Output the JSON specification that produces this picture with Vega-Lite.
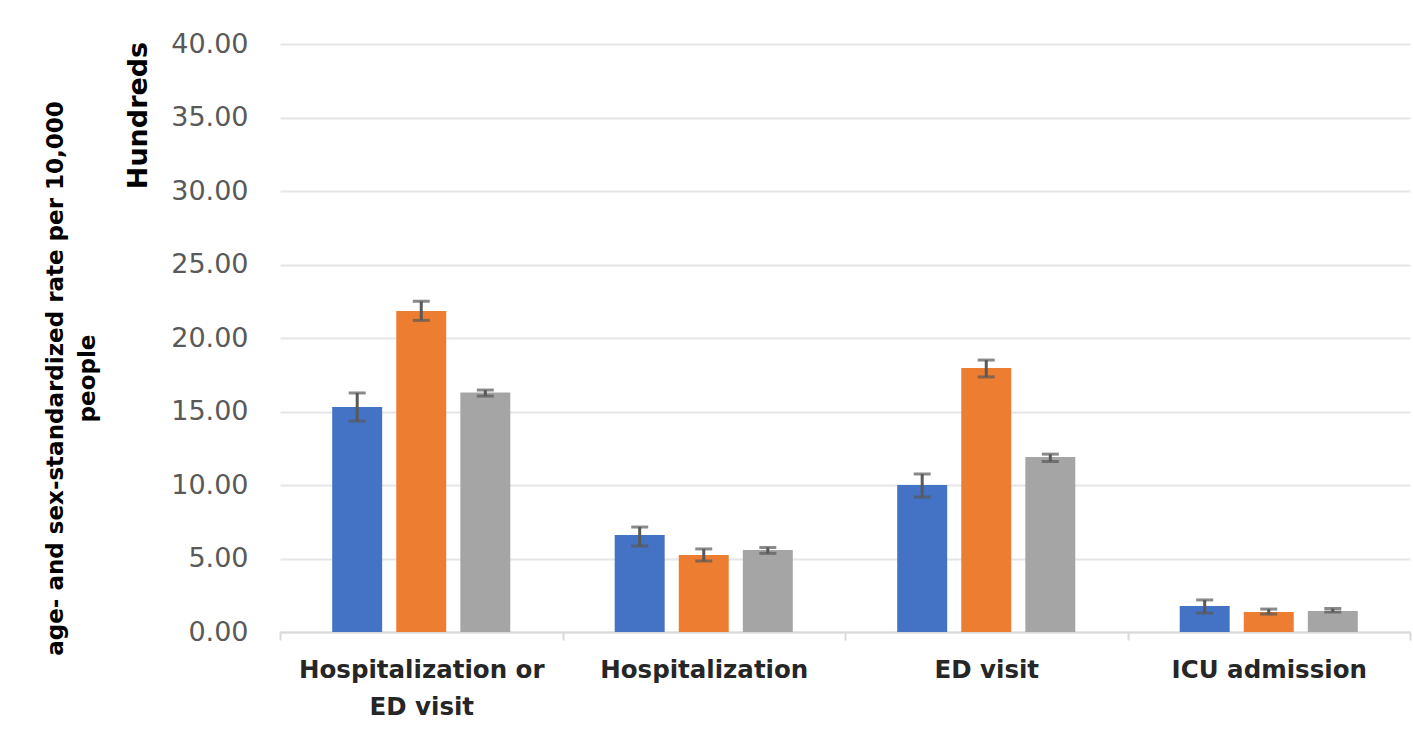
{
  "$schema": "https://vega.github.io/schema/vega-lite/v6.json",
  "width": 1130,
  "height": 588,
  "autosize": {"type": "none"},
  "padding": {"left": 280, "top": 44, "right": 3, "bottom": 98},
  "background": "white",
  "config": {"view": {"stroke": null}},
  "data": {
    "values": [
      {"category": "Hospitalization or ED visit", "series": "Group 1", "value": 15.3, "lo": 14.35, "hi": 16.26},
      {"category": "Hospitalization or ED visit", "series": "Group 2", "value": 21.84, "lo": 21.2, "hi": 22.5},
      {"category": "Hospitalization or ED visit", "series": "Group 3", "value": 16.3, "lo": 16.05, "hi": 16.46},
      {"category": "Hospitalization", "series": "Group 1", "value": 6.6, "lo": 5.85, "hi": 7.14},
      {"category": "Hospitalization", "series": "Group 2", "value": 5.24, "lo": 4.83, "hi": 5.65},
      {"category": "Hospitalization", "series": "Group 3", "value": 5.58, "lo": 5.35, "hi": 5.75},
      {"category": "ED visit", "series": "Group 1", "value": 10.0, "lo": 9.18, "hi": 10.75},
      {"category": "ED visit", "series": "Group 2", "value": 17.96, "lo": 17.35, "hi": 18.5},
      {"category": "ED visit", "series": "Group 3", "value": 11.9, "lo": 11.6, "hi": 12.1},
      {"category": "ICU admission", "series": "Group 1", "value": 1.77, "lo": 1.29, "hi": 2.18},
      {"category": "ICU admission", "series": "Group 2", "value": 1.36, "lo": 1.22, "hi": 1.56},
      {"category": "ICU admission", "series": "Group 3", "value": 1.43, "lo": 1.36, "hi": 1.6}
    ]
  },
  "encoding": {
    "x": {
      "field": "category",
      "type": "nominal",
      "sort": ["Hospitalization or ED visit", "Hospitalization", "ED visit", "ICU admission"],
      "scale": {"paddingInner": 0, "paddingOuter": 0},
      "axis": {
        "title": null,
        "labelAngle": 0,
        "labelLimit": 0,
        "labelFont": "DejaVu Sans",
        "labelFontWeight": "bold",
        "labelFontSize": 24.5,
        "labelColor": "#262626",
        "labelPadding": 18,
        "labelLineHeight": 37,
        "labelExpr": "datum.label == 'Hospitalization or ED visit' ? ['Hospitalization or', 'ED visit'] : datum.label",
        "tickBand": "extent",
        "tickSize": 8,
        "tickColor": "#d9d9d9",
        "tickWidth": 2,
        "domainColor": "#d9d9d9",
        "domainWidth": 2,
        "grid": false
      }
    },
    "xOffset": {
      "field": "series",
      "type": "nominal",
      "sort": ["Group 1", "Group 2", "Group 3"],
      "scale": {"paddingInner": 0.22, "paddingOuter": 0.815}
    }
  },
  "layer": [
    {
      "mark": {"type": "bar"},
      "encoding": {
        "y": {
          "field": "value",
          "type": "quantitative",
          "scale": {"domain": [0, 40], "nice": false},
          "axis": {
            "values": [0, 5, 10, 15, 20, 25, 30, 35, 40],
            "format": ".2f",
            "labelFont": "DejaVu Sans",
            "labelFontSize": 27,
            "labelColor": "#595959",
            "labelPadding": 32,
            "ticks": false,
            "domain": false,
            "gridColor": "#e6e6e6",
            "gridWidth": 2,
            "title": ["age- and sex-standardized rate per 10,000", "people"],
            "titleFont": "DejaVu Sans",
            "titleFontWeight": "bold",
            "titleFontSize": 23,
            "titleColor": "#000000",
            "titleLineHeight": 32,
            "titleAlign": "center",
            "titleBaseline": "middle",
            "titleX": -225,
            "titleY": 334
          }
        },
        "color": {
          "field": "series",
          "type": "nominal",
          "sort": ["Group 1", "Group 2", "Group 3"],
          "scale": {"range": ["#4472C4", "#ED7D31", "#A5A5A5"]},
          "legend": null
        }
      }
    },
    {
      "mark": {"type": "rule", "color": "#595959", "strokeWidth": 3},
      "encoding": {
        "y": {
          "field": "lo",
          "type": "quantitative",
          "axis": {
            "orient": "left",
            "labels": false,
            "ticks": false,
            "domain": false,
            "grid": false,
            "title": "Hundreds",
            "titleFont": "DejaVu Sans",
            "titleFontWeight": "bold",
            "titleFontSize": 27,
            "titleColor": "#000000",
            "titleAlign": "center",
            "titleBaseline": "middle",
            "titleX": -142,
            "titleY": 71
          }
        },
        "y2": {"field": "hi"}
      }
    },
    {
      "mark": {"type": "tick", "color": "#595959", "thickness": 3, "size": 17},
      "encoding": {
        "y": {"field": "lo", "type": "quantitative", "axis": null}
      }
    },
    {
      "mark": {"type": "tick", "color": "#595959", "thickness": 3, "size": 17},
      "encoding": {
        "y": {"field": "hi", "type": "quantitative", "axis": null}
      }
    }
  ],
  "resolve": {"scale": {"y": "shared"}, "axis": {"y": "independent"}}
}
